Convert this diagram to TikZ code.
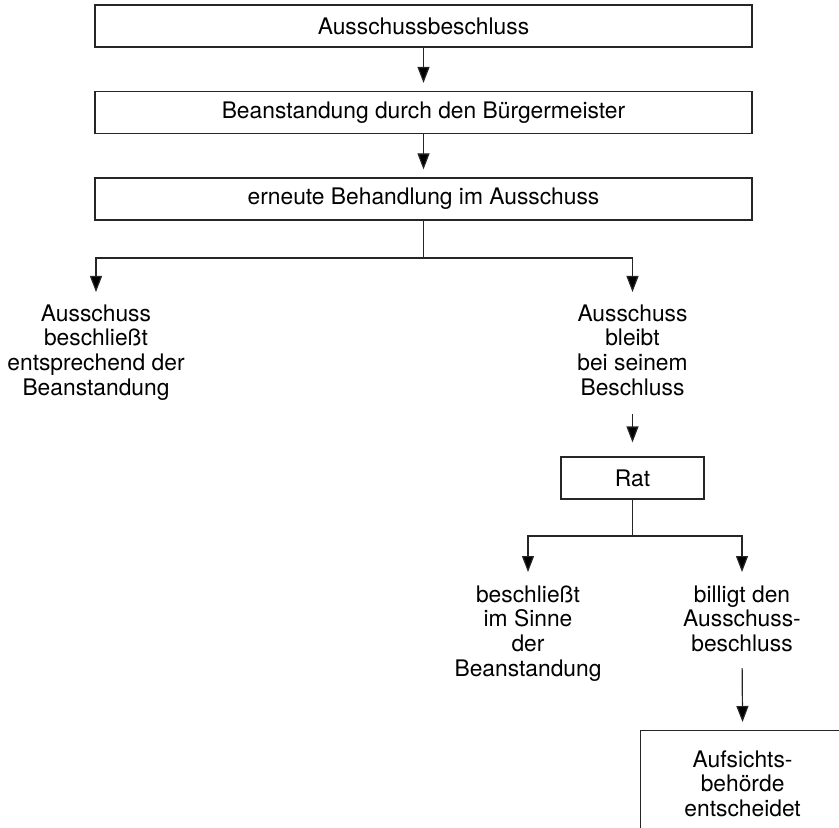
\documentclass[tikz,border=0pt]{standalone}
\usepackage{fontspec}
\setmainfont{TeX Gyre Heros}
\usetikzlibrary{arrows.meta,positioning}

\tikzset{%
  % Specifications for style of nodes:
         base/.style =   { inner sep=0pt, align=center, font=\fontsize{11.4}{12.35}\selectfont },
         box/.style =    { base, rectangle, draw=black!85, line width=0.6pt, minimum width=328.5pt, minimum height=21pt },
         ratbox/.style = { base, rectangle, draw=black!85, line width=0.6pt, minimum width=71.5pt, minimum height=21pt },
         endbox/.style = { base, rectangle, draw=black!85, line width=0.6pt, minimum width=102pt, minimum height=53pt },
         txt/.style =    { base, anchor=north },
         pfeil/.style =  { -{Triangle[length=8pt,width=6pt,fill=black]}, line width=0.6pt, draw=black!85 },
}

\begin{document}
\begin{tikzpicture}[x=0.5pt, y=-0.5pt]
    \clip (0,0) rectangle (839,828);

    % Draw nodes
    \node (beschluss)    [box]    at (423.5,26)    {Ausschussbeschluss};
    \node (beanstandung) [box]    at (423.5,112.5) {Beanstandung durch den Bürgermeister};
    \node (behandlung)   [box]    at (423.5,199)   {erneute Behandlung im Ausschuss};
    \node (entsprechend) [txt]    at (96,304)      {Ausschuss\\beschließt\\entsprechend der\\Beanstandung};
    \node (bleibt)       [txt]    at (632.5,304)   {Ausschuss\\bleibt\\bei seinem\\Beschluss};
    \node (rat)          [ratbox] at (632.5,478)   {Rat};
    \node (sinne)        [txt]    at (528,585)     {beschließt\\im Sinne\\der\\Beanstandung};
    \node (billigt)      [txt]    at (742,585)     {billigt den\\Ausschuss-\\beschluss};
    \node (aufsicht)     [endbox, anchor=north west] at (640,730) {Aufsichts-\\behörde\\entscheidet};

    \coordinate (gabel_1) at (423.5,258);
    \coordinate (gabel_2) at (632.5,536);

    % Draw arrows
    \draw[pfeil, shorten >=4pt]  (beschluss) -- (beanstandung);
    \draw[pfeil, shorten >=4pt]  (beanstandung) -- (behandlung);

    \draw[line width=0.6pt, draw=black!85] (behandlung.south) -- (gabel_1);
    \draw[pfeil, shorten >=6pt]  (gabel_1) -| (entsprechend.north);
    \draw[pfeil, shorten >=6pt]  (gabel_1) -| (bleibt.north);

    \draw[pfeil, shorten <=9pt, shorten >=7pt] (bleibt.south) -- (rat.north);

    \draw[line width=0.6pt, draw=black!85] (rat.south) -- (gabel_2);
    \draw[pfeil, shorten >=6.5pt] (gabel_2) -| (sinne.north);
    \draw[pfeil, shorten >=6.5pt] (gabel_2) -| (billigt.north);

    \draw[pfeil, shorten <=8pt, shorten >=4pt] (billigt.south) -- (aufsicht.north);
\end{tikzpicture}
\end{document}
